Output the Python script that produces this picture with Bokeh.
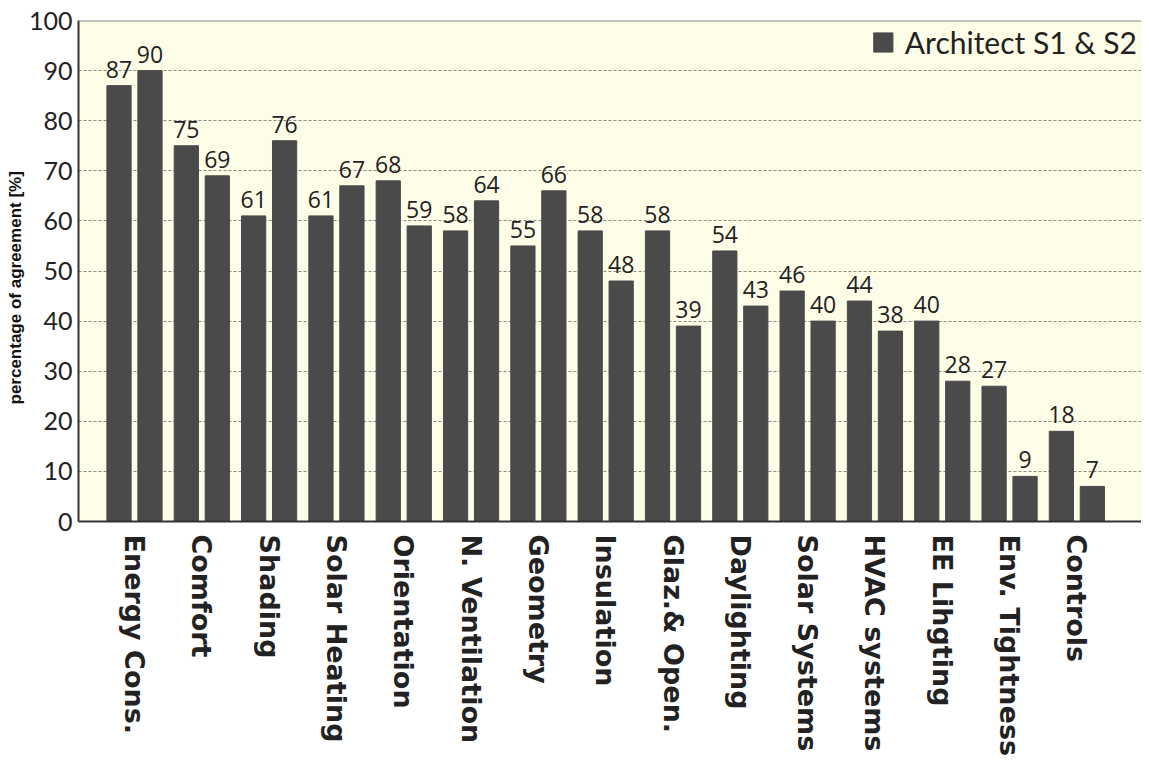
from bokeh.plotting import figure
from bokeh.models import ColumnDataSource, Range1d, FixedTicker, Span, Legend, LegendItem, Title
from bokeh.transform import dodge
from bokeh.core.properties import value
from bokeh.embed import file_html
from bokeh.resources import INLINE

categories = ["Energy Cons.", "Comfort", "Shading", "Solar Heating", "Orientation",
              "N. Ventilation", "Geometry", "Insulation", "Glaz.& Open.", "Daylighting",
              "Solar Systems", "HVAC systems", "EE Lihgting", "Env. Tightness", "Controls"]
s1 = [87, 75, 61, 61, 68, 58, 55, 58, 58, 54, 46, 44, 40, 27, 18]
s2 = [90, 69, 76, 67, 59, 64, 66, 48, 39, 43, 40, 38, 28, 9, 7]
y_ticks = [0, 10, 20, 30, 40, 50, 60, 70, 80, 90, 100]
legend_label = "Architect S1 & S2"
y_title = "percentage of agreement [%]"

xs = list(range(len(categories)))
src = ColumnDataSource(dict(x=xs, s1=s1, s2=s2,
                            l1=[str(v) for v in s1], l2=[str(v) for v in s2]))

BAR = "#4a4a4a"
p = figure(width=1141, height=761, output_backend="svg", toolbar_location=None,
           x_range=Range1d(-0.832, 14.96), y_range=Range1d(0, 100),
           min_border_left=78, min_border_right=0, min_border_top=20, min_border_bottom=240)
p.background_fill_color = "#fefde8"
p.border_fill_color = "white"
p.outline_line_color = None

off = 0.23
bw = 0.36
r1 = p.vbar(x=dodge("x", -off, range=p.x_range), top="s1", width=bw, source=src,
            fill_color=BAR, line_color=BAR)
r2 = p.vbar(x=dodge("x", off, range=p.x_range), top="s2", width=bw, source=src,
            fill_color=BAR, line_color=BAR)

for col, lab, o in (("s1", "l1", -off), ("s2", "l2", off)):
    p.text(x=dodge("x", o, range=p.x_range), y=col, text=lab, source=src,
           text_align="center", text_baseline="bottom", y_offset=-8,
           text_font=value("Open Sans"), text_font_size="23px", text_color="#222222")

# grid
p.xgrid.visible = False
p.ygrid.ticker = FixedTicker(ticks=y_ticks[1:-1])
p.ygrid.grid_line_color = "#8a8a80"
p.ygrid.grid_line_dash = "3 2"
p.ygrid.grid_line_width = 1
p.add_layout(Span(location=100, dimension="width", line_color="#8a8a8a", line_width=2))

# axes
for ax in (p.xaxis[0], p.yaxis[0]):
    ax.major_tick_line_color = None
    ax.minor_tick_line_color = None
    ax.major_tick_out = 0
    ax.major_tick_in = 0
    ax.minor_tick_out = 0
    ax.minor_tick_in = 0
    ax.axis_line_color = "#333333"
    ax.axis_line_width = 2

p.yaxis.ticker = FixedTicker(ticks=y_ticks)
p.yaxis.major_label_standoff = 6
p.yaxis.major_label_text_font = "Lato"
p.yaxis.major_label_text_font_size = "25px"
p.yaxis.major_label_text_color = "#222222"

ytitle = Title(text=y_title, align="left", offset=117, standoff=2,
               text_font="Liberation Sans", text_font_style="bold",
               text_font_size="17px", text_color="#111111")
p.add_layout(ytitle, "left")

p.xaxis.ticker = FixedTicker(ticks=xs)
p.xaxis.major_label_overrides = {i: c for i, c in enumerate(categories)}
p.xaxis.major_label_orientation = "vertical"
p.xaxis.major_label_standoff = 13
p.xaxis.major_label_text_font = "DejaVu Sans"
p.xaxis.major_label_text_font_style = "bold"
p.xaxis.major_label_text_font_size = "27px"
p.xaxis.major_label_text_color = "#222222"

legend = Legend(items=[LegendItem(label=legend_label, renderers=[r1])],
                location="top_right")
legend.glyph_width = 24
legend.glyph_height = 24
legend.label_text_font = "Lato"
legend.label_text_font_size = "30px"
legend.label_text_color = "#222222"
legend.border_line_color = None
legend.background_fill_alpha = 0
legend.margin = 4
legend.padding = 6
legend.label_standoff = 10
p.add_layout(legend)

open("out.html", "w").write(file_html(p, INLINE))
